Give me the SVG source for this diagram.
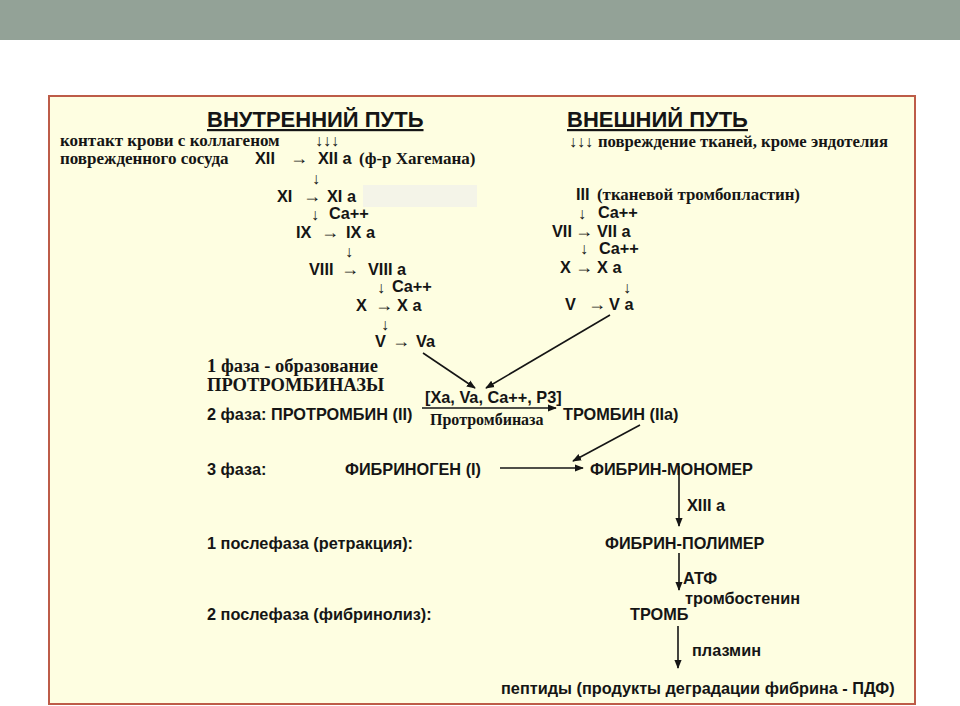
<svg xmlns="http://www.w3.org/2000/svg" width="960" height="706" viewBox="0 0 960 706">
<defs>
<style>
.s{font-family:"Liberation Sans",Arial,sans-serif;font-weight:bold;font-size:16.3px;fill:#151515}
.r{font-family:"Liberation Serif","Times New Roman",serif;font-weight:bold;font-size:17px;fill:#151515}
.t{font-family:"Liberation Sans",Arial,sans-serif;font-weight:bold;font-size:22px;fill:#151515;text-decoration:underline}
.a{font-family:"Liberation Sans","DejaVu Sans",sans-serif;font-weight:normal;font-size:18px;fill:#151515}
.d{font-family:"Liberation Sans","DejaVu Sans",sans-serif;font-weight:normal;font-size:16px;fill:#151515}
.c line{stroke:#151515;stroke-width:1.6;fill:none}
</style>
<marker id="ahb" viewBox="0 0 10 10" refX="9" refY="5" markerWidth="9" markerHeight="9" markerUnits="userSpaceOnUse" orient="auto">
<path d="M0,1 L10,5 L0,9 z" fill="#151515"/>
</marker>
</defs>
<rect x="0" y="0" width="960" height="706" fill="#ffffff"/>
<rect x="0" y="0" width="960" height="40" fill="#93a297"/>
<rect x="49" y="96" width="866" height="608" fill="#fefee1" stroke="#bd5c48" stroke-width="2"/>
<rect x="363" y="185" width="114" height="22" fill="#f4f4e8"/>

<g id="titles">
<text class="t" x="207" y="127">ВНУТРЕННИЙ ПУТЬ</text>
<text class="t" x="567" y="127">ВНЕШНИЙ ПУТЬ</text>
</g>

<g id="intrinsic">
<text class="r" x="60" y="146">контакт крови с коллагеном</text>
<text class="d" x="315" y="146">↓↓↓</text>
<text class="r" x="60" y="164">поврежденного сосуда</text>
<text class="s" x="255" y="164">XII</text>
<text class="a" x="290" y="164">→</text>
<text class="s" x="318" y="164">XII a</text>
<text class="r" x="359" y="164">(ф-р Хагемана)</text>
<text class="d" x="312" y="184">↓</text>
<text class="s" x="277" y="202">XI</text>
<text class="a" x="303" y="202">→</text>
<text class="s" x="327" y="202">XI a</text>
<text class="d" x="311" y="220">↓</text>
<text class="s" x="329" y="219">Ca++</text>
<text class="s" x="296" y="238">IX</text>
<text class="a" x="321" y="238">→</text>
<text class="s" x="346" y="238">IX a</text>
<text class="d" x="345" y="257">↓</text>
<text class="s" x="309" y="275">VIII</text>
<text class="a" x="341" y="275">→</text>
<text class="s" x="368" y="275">VIII a</text>
<text class="d" x="377" y="293">↓</text>
<text class="s" x="392" y="292">Ca++</text>
<text class="s" x="356" y="311">X</text>
<text class="a" x="375" y="311">→</text>
<text class="s" x="397" y="311">X a</text>
<text class="d" x="381" y="330">↓</text>
<text class="s" x="375" y="347">V</text>
<text class="a" x="392" y="347">→</text>
<text class="s" x="416" y="347">Va</text>
</g>

<g id="extrinsic">
<text class="d" x="569" y="147">↓↓↓</text>
<text class="r" x="598" y="147" textLength="290" lengthAdjust="spacingAndGlyphs">повреждение тканей, кроме эндотелия</text>
<text class="s" x="576" y="200">III</text>
<text class="r" x="597" y="200" textLength="203" lengthAdjust="spacingAndGlyphs">(тканевой тромбопластин)</text>
<text class="d" x="578" y="219">↓</text>
<text class="s" x="598" y="218">Ca++</text>
<text class="s" x="552" y="237">VII</text>
<text class="a" x="575" y="237">→</text>
<text class="s" x="597" y="237">VII a</text>
<text class="d" x="580" y="254">↓</text>
<text class="s" x="599" y="254">Ca++</text>
<text class="s" x="560" y="273">X</text>
<text class="a" x="575" y="273">→</text>
<text class="s" x="597" y="273">X a</text>
<text class="d" x="623" y="293">↓</text>
<text class="s" x="565" y="310">V</text>
<text class="a" x="588" y="310">→</text>
<text class="s" x="609" y="310">V a</text>
</g>

<g id="phase1">
<text class="r" x="207" y="372" style="font-size:18.5px">1 фаза - образование</text>
<text class="r" x="207" y="391" style="font-size:18.5px">ПРОТРОМБИНАЗЫ</text>
</g>

<g id="phase2">
<text class="s" x="207" y="420">2 фаза: ПРОТРОМБИН (II)</text>
<text class="s" x="425" y="403">[Xa, Va, Ca++, P3]</text>
<text class="r" x="430" y="425" style="font-size:16px">Протромбиназа</text>
<text class="s" x="563" y="420">ТРОМБИН (IIa)</text>
</g>

<g id="phase3">
<text class="s" x="207" y="475">3 фаза:</text>
<text class="s" x="345" y="475">ФИБРИНОГЕН (I)</text>
<text class="s" x="590" y="475">ФИБРИН-МОНОМЕР</text>
<text class="s" x="687" y="511">XIII a</text>
</g>

<g id="post1">
<text class="s" x="207" y="549">1 послефаза (ретракция):</text>
<text class="s" x="605" y="549">ФИБРИН-ПОЛИМЕР</text>
<text class="s" x="683" y="584">АТФ</text>
<text class="s" x="685" y="604">тромбостенин</text>
</g>

<g id="post2">
<text class="s" x="207" y="620">2 послефаза (фибринолиз):</text>
<text class="s" x="630" y="620">ТРОМБ</text>
<text class="s" x="692" y="656">плазмин</text>
<text class="s" x="501" y="694">пептиды (продукты деградации фибрина - ПДФ)</text>
</g>

<g id="connectors" class="c">
<line x1="423" y1="353" x2="475" y2="388" marker-end="url(#ahb)"/>
<line x1="610" y1="315" x2="486" y2="388" marker-end="url(#ahb)"/>
<line x1="422" y1="408" x2="556" y2="408" marker-end="url(#ahb)"/>
<line x1="640" y1="425" x2="573" y2="461" marker-end="url(#ahb)"/>
<line x1="500" y1="468" x2="583" y2="468" marker-end="url(#ahb)"/>
<line x1="679" y1="466" x2="679" y2="526" marker-end="url(#ahb)"/>
<line x1="679" y1="553" x2="679" y2="590" marker-end="url(#ahb)"/>
<line x1="678" y1="626" x2="678" y2="668" marker-end="url(#ahb)"/>
</g>
</svg>
